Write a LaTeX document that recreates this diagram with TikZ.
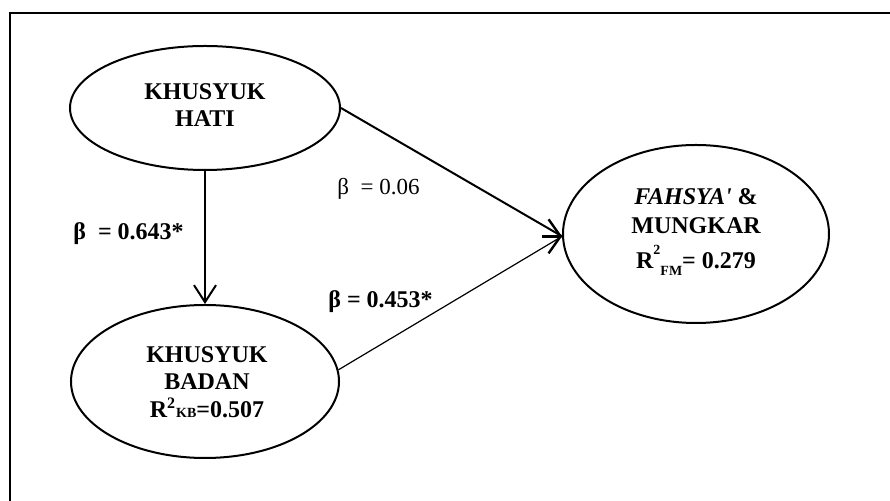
\documentclass[tikz,border=0pt]{standalone}
\usepackage{fontspec}
\setmainfont{Liberation Serif}
\usetikzlibrary{arrows.meta,shapes.geometric}
\begin{document}
\begin{tikzpicture}[x=0.5pt,y=-0.5pt,
  latent/.style={ellipse, draw, line width=1pt, inner sep=0pt},
  lbl/.style={font=\fontsize{12}{13.5}\selectfont\bfseries, align=center, inner sep=0pt},
  coef/.style={font=\fontsize{12}{13.5}\selectfont\bfseries, inner sep=0pt, anchor=base west},
  coefplain/.style={font=\fontsize{11.5}{13}\selectfont, inner sep=0pt, anchor=base west},
  vtip/.style={-{Straight Barb[length=8.5pt,width=11pt]}},
  htip/.style={-{Straight Barb[length=6pt,width=17pt]}}
]
\useasboundingbox (0,0) rectangle (890,501);
\draw[line width=1.1pt] (900,13) -- (10,13) -- (10,510);

\node[latent, minimum width=135pt, minimum height=62pt] (hati) at (205,108) {};
\node[latent, minimum width=134pt, minimum height=76.5pt] (badan) at (205,381.5) {};
\node[latent, minimum width=133pt, minimum height=89pt] (fahsya) at (696,234) {};

\node[lbl] (hatitxt) at (205,105) {KHUSYUK\\HATI};
\node[lbl] (badantxt) at (207,382) {KHUSYUK\\[0.25pt]BADAN\\[0.25pt]R\textsuperscript{2}{\scriptsize KB}=0.507};
\node[lbl] (fahsyatxt) at (696,232) {{\itshape FAHSYA\textquotesingle} \&\\[1pt]MUNGKAR\\[4pt]R\raisebox{7pt}{\scriptsize 2}\raisebox{-3.5pt}{\scriptsize FM}= 0.279};

\node[coef] (b1) at (73,240) {β\ \ = 0.643*};
\node[coefplain] (b2) at (337,195) {β\ \ = 0.06};
\node[coef] (b3) at (328,308) {β = 0.453*};

\coordinate (stubstart) at ([xshift=-10pt]fahsya.181);
\draw[line width=1pt, vtip] (hati.south) -- (badan.north);
\draw[line width=1pt] (hati.east) -- (fahsya.181);
\draw[line width=0.6pt] (badan.5) -- (fahsya.181);
\draw[line width=1.2pt, htip] (stubstart) -- (fahsya.181);
\end{tikzpicture}
\end{document}
